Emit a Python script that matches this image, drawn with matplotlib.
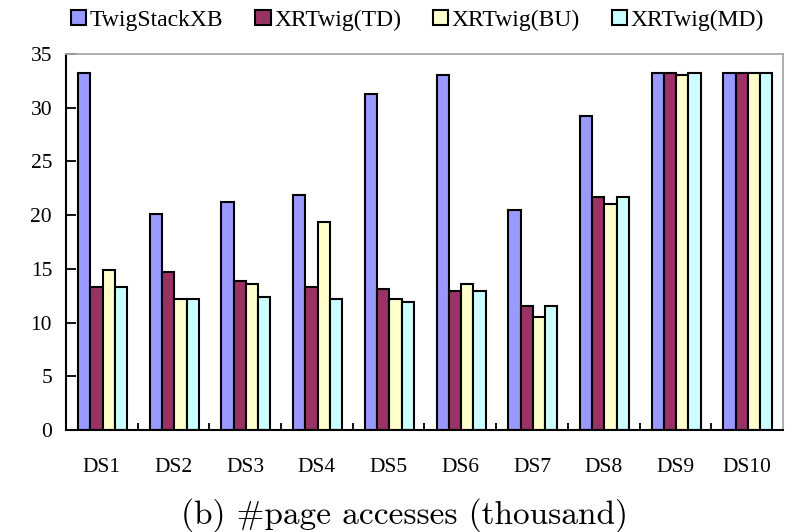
import matplotlib.pyplot as plt
import numpy as np

datasets = ["DS1", "DS2", "DS3", "DS4", "DS5", "DS6", "DS7", "DS8", "DS9", "DS10"]
methods = ["TwigStackXB", "XRTwig(TD)", "XRTwig(BU)", "XRTwig(MD)"]

# page accesses in thousands
twigstackxb = [33.2, 20.1, 21.2, 21.9, 31.3, 33.0, 20.5, 29.2, 33.2, 33.2]
xrtwig_td = [13.3, 14.7, 13.9, 13.3, 13.1, 12.9, 11.5, 21.7, 33.2, 33.2]
xrtwig_bu = [14.9, 12.2, 13.6, 19.4, 12.2, 13.6, 10.5, 21.0, 33.0, 33.2]
xrtwig_md = [13.3, 12.2, 12.4, 12.2, 11.9, 12.9, 11.5, 21.7, 33.2, 33.2]

colors = ["#9999ff", "#993366", "#ffffcc", "#ccffff"]
series = [twigstackxb, xrtwig_td, xrtwig_bu, xrtwig_md]

plt.rcParams['font.family'] = ['Liberation Serif', 'DejaVu Serif']

fig = plt.figure(figsize=(7.91, 5.32), dpi=100)
ax = fig.add_axes([0.0834, 0.1917, 0.9065, 0.7068])

x = np.arange(len(datasets))
w = 0.171
for i, (vals, c) in enumerate(zip(series, colors)):
    ax.bar(x + (i - 1.5) * w + 0.01, vals, w, color=c, edgecolor="black",
           linewidth=1.5, label=methods[i])

ax.set_xlim(-0.5, len(datasets) - 0.5)
ax.set_ylim(0, 35)
ax.set_yticks(range(0, 36, 5))
ax.set_xticks(x)
ax.set_xticklabels(datasets)
ax.set_xticks(np.arange(0.5, len(datasets) - 0.5, 1), minor=True)

ax.tick_params(axis="y", direction="in", length=7, width=1.3, pad=10, labelsize=15.5)
ax.tick_params(axis="x", which="major", length=0, pad=20, labelsize=15.5)
ax.tick_params(axis="x", which="minor", direction="in", length=5, width=1.3)

for s in ["left", "bottom"]:
    ax.spines[s].set_linewidth(1.5)
for s in ["top", "right"]:
    ax.spines[s].set_color("#a8a8a8")
    ax.spines[s].set_linewidth(1.3)

fig.legend(loc="upper center", bbox_to_anchor=(0.528, 1.022), ncol=4, frameon=False,
           fontsize=17, handlelength=0.65, handleheight=0.65, handletextpad=0.15,
           columnspacing=1.35)

fig.text(0.512, 0.032, "(b) #page accesses (thousand)", ha="center", va="center",
         family="cmr10", fontsize=24)

fig.savefig("out.png", dpi=100)
